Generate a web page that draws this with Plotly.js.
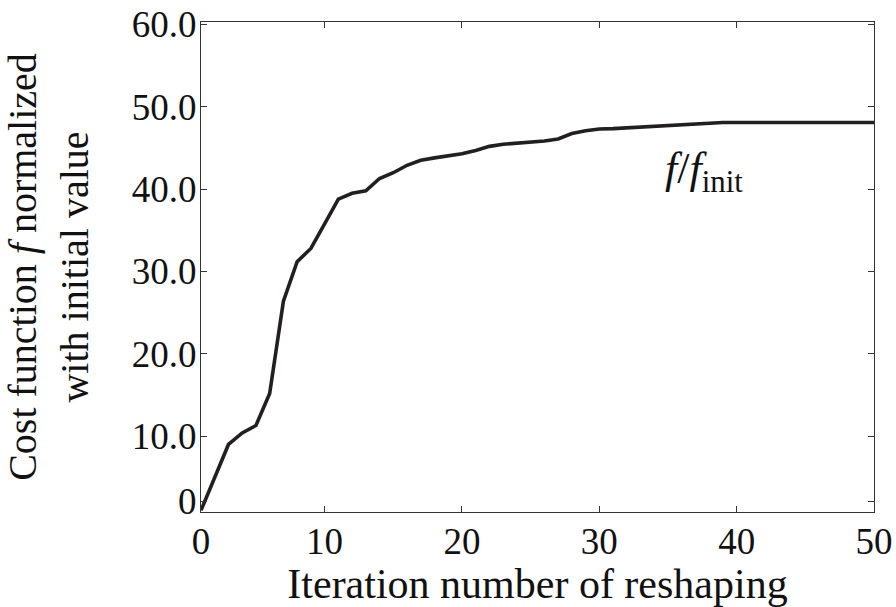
<!DOCTYPE html>
<html>
<head>
<meta charset="utf-8">
<script src="https://cdn.plot.ly/plotly-3.0.1.min.js"></script>
</head>
<body style="margin:0">
<div id="chart" style="width:896px;height:607px"></div>
<script>
// Iteration number (axis units) and normalized cost f / f_init
const iterations = [
  1, 2, 3, 4, 5, 6, 7, 8, 9, 10,
  11, 12, 13, 14, 15, 16, 17, 18, 19, 20,
  21, 22, 23, 24, 25, 26, 27, 28, 29, 30,
  31, 32, 33, 34, 35, 36, 37, 38, 39, 40,
  41, 42, 43, 44, 45, 46, 47, 48, 49, 50
];
const costRatio = [
  1.0, 5.0, 9.0, 10.4, 11.3, 15.2, 26.4, 31.2, 32.8, 35.8,
  38.8, 39.5, 39.8, 41.3, 42.0, 42.9, 43.5, 43.8, 44.0, 44.3,
  44.7, 45.2, 45.45, 45.55, 45.65, 45.85, 46.1, 46.75, 47.1, 47.3,
  47.35, 47.45, 47.5, 47.58, 47.65, 47.82, 47.95, 48.05, 48.1, 48.1,
  48.1, 48.1, 48.1, 48.1, 48.1, 48.1, 48.1, 48.1, 48.1, 48.1
];

// Tick positions and their printed labels
const xTickVals = [1, 10, 20, 30, 40, 50];
const xTickText = ['0', '10', '20', '30', '40', '50'];
const yTickVals = [2.1, 10, 20, 30, 40, 50, 60];
const yTickText = ['0', '10.0', '20.0', '30.0', '40.0', '50.0', '60.0'];

const serif = 'Liberation Serif';

const trace = {
  x: iterations,
  y: costRatio,
  type: 'scatter',
  mode: 'lines',
  line: { color: '#231f20', width: 3.6 },
  hoverinfo: 'skip'
};

function frameAxis(extra) {
  return Object.assign({
    showgrid: false,
    zeroline: false,
    showline: true,
    linecolor: '#333333',
    linewidth: 1.3,
    mirror: 'ticks',
    ticks: 'inside',
    ticklen: 6,
    tickwidth: 1,
    tickcolor: '#333333',
    tickmode: 'array',
    tickfont: { family: serif, size: 37, color: '#111111' }
  }, extra);
}

const layout = {
  width: 896,
  height: 607,
  margin: { l: 201, r: 22, t: 22, b: 95 },
  showlegend: false,
  xaxis: frameAxis({
    range: [1, 50],
    tickvals: xTickVals,
    ticktext: xTickText,
    ticklabelstandoff: -4,
    title: {
      text: 'Iteration number of reshaping',
      font: { family: serif, size: 42, color: '#111111' },
      standoff: 0
    }
  }),
  yaxis: frameAxis({
    range: [0.8, 60.3],
    tickvals: yTickVals,
    ticktext: yTickText,
    ticklabelstandoff: -4,
    title: {
      text: 'Cost function <i>f</i> normalized<br>with initial value',
      font: { family: serif, size: 40, color: '#111111' },
      standoff: 30
    }
  }),
  annotations: [
    {
      x: 37.6, y: 42.2, xref: 'x', yref: 'y',
      text: '<i>f</i>/<i>f</i><sub>init</sub>',
      showarrow: false,
      font: { family: serif, size: 44, color: '#111111' },
      xanchor: 'center', yanchor: 'middle'
    }
  ]
};

Plotly.newPlot('chart', [trace], layout, { displayModeBar: false });
</script>
</body>
</html>
